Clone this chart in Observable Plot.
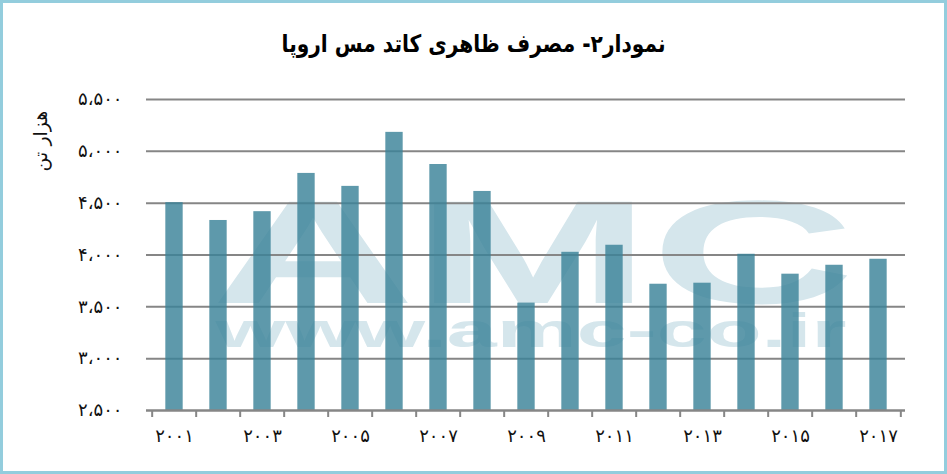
<!DOCTYPE html>
<html>
<head>
<meta charset="utf-8">
<script src="https://cdn.jsdelivr.net/npm/d3@7"></script>
<script src="https://cdn.jsdelivr.net/npm/@observablehq/plot@0.6"></script>
<style>
  html, body { margin: 0; padding: 0; background: #fff; }
  #wrap { position: relative; width: 947px; height: 474px; overflow: hidden; background: #fff; }
  #title { height: 80px; line-height: 88px; text-align: center; font-family: "DejaVu Sans", sans-serif; font-weight: bold; font-size: 24px; color: #000; direction: rtl; }
  #title span { display: inline-block; transform: scaleX(0.84); transform-origin: center; }
  #frame { position: absolute; left: 0; top: 0; width: 947px; height: 474px; box-sizing: border-box; border: 3px solid #93cddd; pointer-events: none; }
</style>
</head>
<body>
<div id="wrap">
  <div id="title"><span>نمودار۲- مصرف ظاهری کاتد مس اروپا</span></div>
  <div id="chart"></div>
  <div id="frame"></div>
</div>
<script>
const years = [2001,2002,2003,2004,2005,2006,2007,2008,2009,2010,2011,2012,2013,2014,2015,2016,2017];
const consumption = [4505,4333,4418,4787,4662,5183,4873,4613,3536,4026,4094,3718,3728,4007,3815,3901,3959];
const yTicks = [2500,3000,3500,4000,4500,5000,5500];
const xLabelYears = [2001,2003,2005,2007,2009,2011,2013,2015,2017];
const yLabel = "هزار تن";
const watermark = "AMC";
const watermarkUrl = "www.amc-co.ir";

const data = years.map((y, i) => ({year: y, value: consumption[i]}));
const fa = s => String(s).replace(/\d/g, d => "۰۱۲۳۴۵۶۷۸۹"[d]);
const fmtY = d => fa(d3.format(",")(d)).replace(",", "،");

const W = 947, H = 394, ml = 146, mr = 42, mt = 19, mb = 64;
const step = (W - ml - mr) / years.length;
const barW = 18;
const inset = (step - barW) / 2;
const gray = "#868686";

const chart = Plot.plot({
  width: W, height: H,
  marginLeft: ml, marginRight: mr, marginTop: mt, marginBottom: mb,
  style: {fontFamily: "DejaVu Sans, sans-serif", background: "#fff"},
  x: {type: "band", domain: years, padding: 0, label: null},
  y: {domain: [2500, 5500], label: null},
  marks: [
    Plot.ruleY(yTicks.slice(1), {stroke: gray, strokeWidth: 2}),
    Plot.barY(data, {x: "year", y1: yTicks[0], y2: "value", fill: "#3b8399", fillOpacity: 0.82, insetLeft: inset, insetRight: inset}),
    Plot.ruleY([yTicks[0]], {stroke: gray, strokeWidth: 2.5}),
    Plot.axisY({ticks: yTicks, tickFormat: fmtY, tickSize: 0, tickPadding: 24, fontSize: 18, fill: "#111", label: null}),
    Plot.axisX({ticks: xLabelYears, tickFormat: fa, tickSize: 0, tickPadding: 19, fontSize: 18, fill: "#111", label: null}),
    Plot.axisX({ticks: years, tickFormat: () => "", tickSize: 7, dx: -step/2, stroke: gray, strokeWidth: 2, label: null}),
    Plot.axisX({ticks: [years[years.length-1]], tickFormat: () => "", tickSize: 7, dx: step/2, stroke: gray, strokeWidth: 2, label: null})
  ]
});

const svg = d3.select(chart);
// watermark behind the marks (one text element, two lines)
const wm = svg.insert("text", "g").attr("fill", "#d5e6ec")
  .attr("font-family", "Liberation Sans, Arial, sans-serif").attr("font-weight", "bold").attr("text-anchor", "middle");
wm.append("tspan").attr("x", 533).attr("y", 223).attr("font-size", 147)
  .attr("textLength", 644).attr("lengthAdjust", "spacingAndGlyphs").text(watermark);
wm.append("tspan").attr("x", 531).attr("y", 267).attr("font-size", 48)
  .attr("textLength", 631).attr("lengthAdjust", "spacingAndGlyphs").text(watermarkUrl);
// y label
svg.append("text").attr("transform", "translate(47,61) rotate(-90)").attr("text-anchor", "middle")
  .attr("font-family", "DejaVu Sans, sans-serif").attr("font-size", 19).attr("fill", "#111")
  .attr("direction", "rtl").text(yLabel);

document.getElementById("chart").appendChild(chart);
</script>
</body>
</html>
